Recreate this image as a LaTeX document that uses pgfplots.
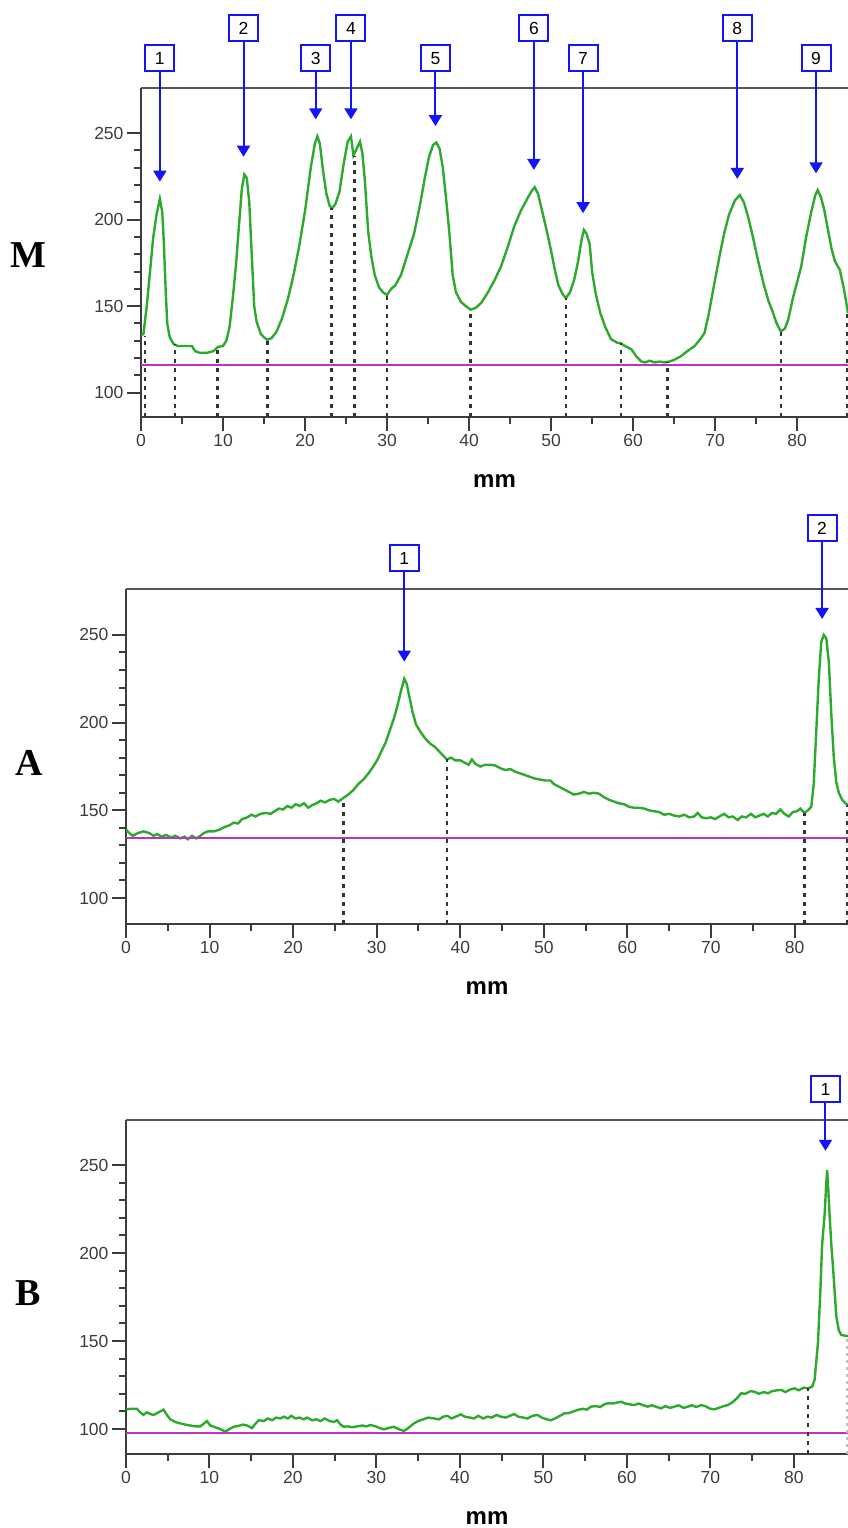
\documentclass[border=0pt]{standalone}
\usepackage{fontspec}
\setmainfont{Liberation Sans}
\newfontfamily\lblfont{Liberation Serif}
\usepackage{pgfplots}
\pgfplotsset{compat=1.18}
\usetikzlibrary{arrows.meta}

\definecolor{greenc}{RGB}{45,170,45}
\definecolor{magc}{RGB}{190,50,190}
\definecolor{axgray}{RGB}{60,60,60}
\definecolor{topgray}{RGB}{85,85,85}
\definecolor{arrowc}{RGB}{20,20,250}

\pgfplotsset{
  densit/.style={
    scale only axis,
    anchor=south west,
    axis lines*=left,
    axis line style={axgray, line width=2.7pt},
    xmin=0, ymin=86, ymax=276,
    xtick={0,10,...,80}, ytick={100,150,200,250},
    minor x tick num=1, minor y tick num=4,
    tick align=outside,
    major tick length=14pt, minor tick length=7pt,
    tick style={axgray, line width=2pt},
    tick label style={font=\fontsize{17.5}{20}\selectfont, text=axgray},
    /pgf/number format/assume math mode=true,
    clip mode=individual,
    xlabel={mm},
    xlabel style={font=\bfseries\fontsize{24}{28}\selectfont, at={(axis description cs:0.5,0)}, anchor=center, yshift=-64pt},
  },
  dots/.style={black!80, line width=2.5pt, dash pattern=on 4pt off 5pt, unbounded coords=jump},
  prof/.style={greenc, line width=2.4pt},
}

% arrow with numbered box: x, y of box, y of tip, number
\newcommand{\peak}[4]{%
  \draw[arrowc, line width=2pt, -{Triangle[length=11pt,width=13pt]}] (axis cs:#1,#2) -- (axis cs:#1,#3);
  \node[draw=arrowc, line width=2pt, fill=white, minimum width=29pt, minimum height=26pt, inner sep=0pt, font=\fontsize{17.5}{19}\selectfont] at (axis cs:#1,#2) {#4};
}

\begin{document}
\begin{tikzpicture}
\useasboundingbox (0,0) rectangle (848pt,1528pt);

% ---------- M ----------
\begin{axis}[densit, at={(141pt,1111pt)}, width=707pt, height=329pt, xmax=86.2]
\addplot[prof] coordinates {
(0,133) (0.3,134) (0.7,150) (1.1,170) (1.5,190) (1.9,203) (2.3,212) (2.6,204) (2.8,185) (3.0,160) (3.2,140) (3.5,132) (4.0,128) (4.5,127) (5.0,127) (5.5,127) (6.2,127) (6.6,124) (7.2,123) (8.0,123) (8.8,124) (9.4,126.5) (10.0,127) (10.4,130) (10.8,138) (11.2,155) (11.6,175) (12.0,200) (12.3,218) (12.6,226) (12.9,224) (13.2,210) (13.5,180) (13.8,150) (14.1,141) (14.6,134) (15.0,132) (15.4,130.5) (15.9,131.5) (16.5,135) (17.2,143) (17.9,154) (18.6,168) (19.3,185) (20.0,205) (20.7,230) (21.2,244) (21.5,248) (21.8,244) (22.2,228) (22.6,215) (23.0,208) (23.3,206.5) (23.7,209) (24.2,216) (24.7,232) (25.2,245) (25.6,248) (25.9,237) (26.2,240) (26.7,245) (27.0,238) (27.3,222) (27.7,193) (28.1,178) (28.5,168) (29.0,161) (29.5,158) (30.0,156.5) (30.5,160) (31.0,162) (31.7,168) (32.5,180) (33.3,192) (34.0,208) (34.6,224) (35.1,236) (35.6,243) (36.0,244.5) (36.4,241) (36.8,230) (37.2,212) (37.6,192) (38.0,168) (38.4,158) (39.0,152.5) (39.6,150) (40.2,148) (40.8,149) (41.5,152) (42.3,158) (43.1,165) (43.9,173) (44.7,184) (45.5,196) (46.3,205) (47.2,213) (47.7,217) (48.0,218.7) (48.4,215) (48.8,207) (49.4,195) (50.0,182) (50.5,170) (50.9,162) (51.4,157) (51.8,154.6) (52.3,158) (52.8,165) (53.3,176) (53.7,188) (54.0,194) (54.3,192) (54.7,186) (55.0,170) (55.4,158) (56.0,146) (56.6,138) (57.3,131) (58.0,129) (58.5,128.5) (59.0,127) (59.8,125) (60.4,121) (61.0,118) (61.5,117.5) (62.0,118.5) (62.6,117.5) (63.2,118) (63.8,117.5) (64.4,118) (65.0,119) (65.8,121) (66.6,124) (67.5,127) (68.2,131) (68.7,134.5) (69.2,145) (69.9,163) (70.5,178) (71.1,192) (71.7,203) (72.4,211) (73.0,214.2) (73.5,210) (74.0,202) (74.6,190) (75.2,177) (75.9,163) (76.5,153) (77.0,147) (77.5,140) (78.0,135.4) (78.5,137) (78.9,142) (79.5,155) (80.0,164) (80.5,173) (81.1,190) (81.7,204) (82.2,214) (82.5,217) (82.9,213) (83.3,205.6) (83.8,193) (84.2,183) (84.6,176) (85.2,171) (85.7,160) (86.2,146)
};
\addplot[magc, line width=2pt] coordinates {(0,116) (86.2,116)};
\addplot[dots] coordinates {
(0.5,86) (0.5,133) (0.5,nan)
(4.15,86) (4.15,128) (4.15,nan)
(9.35,86) (9.35,126) (9.35,nan)
(15.4,86) (15.4,130.5) (15.4,nan)
(23.2,86) (23.2,206.5) (23.2,nan)
(26.0,86) (26.0,237) (26.0,nan)
(30.0,86) (30.0,156.5) (30.0,nan)
(40.2,86) (40.2,148) (40.2,nan)
(51.8,86) (51.8,154.6) (51.8,nan)
(58.5,86) (58.5,128.5) (58.5,nan)
(64.2,86) (64.2,118) (64.2,nan)
(78.0,86) (78.0,135.4) (78.0,nan)
(86.1,86) (86.1,147)
};
\draw[topgray, line width=2.2pt] (rel axis cs:0,1) -- (rel axis cs:1,1);
\peak{2.3}{293.1}{221.9}{1}
\peak{12.5}{310.4}{236.3}{2}
\peak{21.3}{293.1}{257.9}{3}
\peak{25.6}{310.4}{257.9}{4}
\peak{35.9}{293.1}{254}{5}
\peak{47.9}{310.4}{228.7}{6}
\peak{53.9}{293.1}{203.7}{7}
\peak{72.7}{310.4}{223.5}{8}
\peak{82.3}{293.1}{226.7}{9}
\end{axis}

% ---------- A ----------
\begin{axis}[densit, at={(126pt,604pt)}, width=722pt, height=335pt, xmax=86.4, ymin=85.2, ymax=276.2]
\addplot[prof] coordinates {
(0,139) (0.4,137) (0.8,135.5) (1.4,137) (2.1,138) (2.8,137) (3.3,135.5) (3.7,136.5) (4.3,135) (4.8,136) (5.4,134.5) (5.9,135.5) (6.5,134) (7.0,135) (7.4,133.5) (7.9,135.5) (8.4,134) (8.9,135.5) (9.3,137) (9.8,138) (10.5,138) (11.2,139) (11.8,140.5) (12.4,141.5) (12.9,143) (13.4,142.5) (13.9,145) (14.5,146) (15.0,147.5) (15.5,146.5) (16.1,148) (16.7,148.5) (17.3,148) (17.8,149.5) (18.3,151) (18.8,150.5) (19.3,152.5) (19.8,151.5) (20.3,153.5) (20.8,152.5) (21.3,154) (21.8,151.5) (22.3,153) (22.8,154) (23.3,155.5) (23.8,154.5) (24.4,156) (24.9,156.5) (25.4,155) (26.0,157) (26.6,159) (27.2,161.5) (27.8,165) (28.4,167.5) (29.0,171) (29.6,175) (30.1,179) (30.6,184) (31.1,189) (31.6,196) (32.1,203) (32.5,210) (32.9,218) (33.3,225) (33.6,222) (33.9,215) (34.3,206) (34.7,199) (35.2,195) (35.8,191) (36.4,188) (37.0,186) (37.6,183) (38.0,181) (38.4,179) (38.9,180) (39.4,178.5) (40.0,178.5) (40.6,177) (41.0,176) (41.4,179) (41.8,176.5) (42.4,175) (43.0,176) (43.6,176) (44.2,175.5) (44.8,174) (45.4,173) (46.0,173.5) (46.6,172) (47.2,171) (47.8,170) (48.4,169) (49.0,168) (49.6,167.5) (50.2,167) (50.8,167) (51.2,165) (51.8,163.5) (52.4,162) (53.0,160.5) (53.6,159) (54.2,159.5) (54.8,160.5) (55.4,159.5) (56.0,160) (56.6,159.5) (57.2,157.5) (57.8,156) (58.4,155) (59.0,154) (59.6,153.5) (60.2,152) (60.8,151.5) (61.4,151.5) (62.0,151) (62.6,150) (63.2,149.5) (63.8,149) (64.4,147.5) (65.0,148) (65.6,147) (66.2,146.5) (66.8,147.5) (67.4,146) (68.0,146.5) (68.4,148.5) (68.9,146) (69.4,145.5) (70.0,146) (70.5,145) (71.0,146.5) (71.6,148) (72.1,146) (72.6,146.5) (73.2,144.5) (73.7,146.5) (74.2,146) (74.8,148) (75.3,146) (75.8,147) (76.3,148) (76.8,146.5) (77.3,148.5) (77.8,148) (78.3,150.5) (78.8,148) (79.3,146.5) (79.8,149) (80.3,149.5) (80.7,151) (81.2,148.5) (81.6,150) (82.0,152) (82.3,165) (82.6,195) (82.9,225) (83.2,246) (83.5,250) (83.8,248) (84.1,235) (84.4,205) (84.7,180) (85.0,166) (85.3,160) (85.7,156) (86.1,154) (86.4,153)
};
\addplot[magc, line width=2pt] coordinates {(0,134) (86.4,134)};
\addplot[dots] coordinates {
(26.0,85.2) (26.0,157) (26.0,nan)
(38.4,85.2) (38.4,179) (38.4,nan)
(81.2,85.2) (81.2,148.5) (81.2,nan)
(86.3,85.2) (86.3,153)
};
\draw[topgray, line width=2.2pt] (rel axis cs:0,1) -- (rel axis cs:1,1);
\peak{33.3}{293.7}{234.8}{1}
\peak{83.3}{310.9}{259.1}{2}
\end{axis}

% ---------- B ----------
\begin{axis}[densit, at={(126pt,74pt)}, width=722pt, height=334pt, xmax=86.5, ymin=85.8, ymax=275.6]
\addplot[prof] coordinates {
(0,111) (0.5,111.5) (1.3,111.5) (1.7,109.5) (2.1,108) (2.5,109.5) (2.9,108.5) (3.3,108) (3.7,109) (4.1,110) (4.5,111) (4.9,108) (5.3,105.5) (5.9,104) (6.5,103.2) (7.1,102.5) (7.7,102) (8.3,101.5) (8.9,101.5) (9.3,103) (9.7,104.5) (10.1,102) (10.5,101.3) (11.0,100.5) (11.5,99.5) (11.9,98.5) (12.4,100) (12.9,101.3) (13.5,101.8) (14.0,102.5) (14.5,102) (15.1,100.5) (15.5,103) (15.9,105) (16.5,104.5) (17.0,106) (17.5,105) (18.0,106.5) (18.5,106) (18.9,107) (19.4,106) (19.8,107.5) (20.3,106) (20.8,106.5) (21.3,105.5) (21.7,106.5) (22.3,105) (22.8,105.5) (23.3,104.5) (23.8,106) (24.4,104.5) (24.9,104) (25.3,105) (25.7,102.5) (26.1,101.3) (26.6,101.5) (27.1,101) (27.7,101.5) (28.3,102) (28.8,101.5) (29.3,102.3) (29.9,101.5) (30.4,100.5) (30.9,99.8) (31.4,100.5) (32.1,101.3) (32.6,100) (33.3,98.9) (33.8,100.5) (34.5,103.2) (35.0,104.5) (35.6,105.5) (36.2,106.5) (36.9,106) (37.5,105.5) (38.0,107) (38.5,107.5) (39.0,106) (39.5,107) (40.1,108.3) (40.6,107) (41.2,106.5) (41.7,106) (42.2,107.5) (42.8,106) (43.3,107) (43.8,106.5) (44.4,108) (44.9,107) (45.5,106.5) (46.0,107.5) (46.5,108.5) (47.0,107) (47.6,106.5) (48.1,106) (48.7,107.5) (49.3,108) (49.8,106.5) (50.4,105.5) (50.9,105) (51.4,106) (52.0,107.5) (52.5,108.9) (53.0,109) (53.6,110) (54.1,110.8) (54.7,111.5) (55.2,111) (55.7,112.7) (56.3,113) (56.8,112.5) (57.3,114) (57.7,114.6) (58.3,114.5) (58.8,115) (59.3,115.5) (59.8,114.5) (60.4,114) (60.9,113.6) (61.4,114.5) (62.0,113.5) (62.5,112.7) (63.0,113.5) (63.6,112.5) (64.1,111.7) (64.6,113) (65.2,112) (65.7,112.7) (66.2,113.5) (66.8,112) (67.3,112.7) (67.8,113.5) (68.3,112.5) (68.9,113.6) (69.4,113) (70.0,111.5) (70.5,111.2) (71.0,112) (71.6,113) (72.1,113.6) (72.6,115) (73.2,117.5) (73.7,120.3) (74.2,120) (74.8,121.5) (75.3,121.2) (75.8,120) (76.4,121) (76.9,120.3) (77.4,121.5) (78.0,122) (78.5,122.2) (79.0,121) (79.6,122.5) (80.1,123.1) (80.6,122) (81.2,123.5) (81.7,123.1) (82.2,124) (82.5,128) (82.9,149) (83.2,180) (83.4,205) (83.7,222) (83.9,240) (84.0,247) (84.15,235) (84.3,221) (84.5,205) (84.7,192) (84.9,178) (85.1,164) (85.4,156) (85.7,153.4) (86.2,153) (86.5,152.8)
};
\addplot[magc, line width=2pt] coordinates {(0,98) (86.5,98)};
\addplot[dots] coordinates {(81.7,85.8) (81.7,123.1)};
\addplot[black!25, line width=1.5pt, dash pattern=on 3pt off 4pt] coordinates {(86.4,85.8) (86.4,152.8)};
\draw[topgray, line width=2.2pt] (rel axis cs:0,1) -- (rel axis cs:1,1);
\peak{83.8}{293}{258.1}{1}
\end{axis}

\node[font=\lblfont\bfseries\fontsize{38}{40}\selectfont] at (28pt,1273pt) {M};
\node[font=\lblfont\bfseries\fontsize{38}{40}\selectfont] at (29pt,765pt) {A};
\node[font=\lblfont\bfseries\fontsize{38}{40}\selectfont] at (28pt,235pt) {B};
\end{tikzpicture}
\end{document}
